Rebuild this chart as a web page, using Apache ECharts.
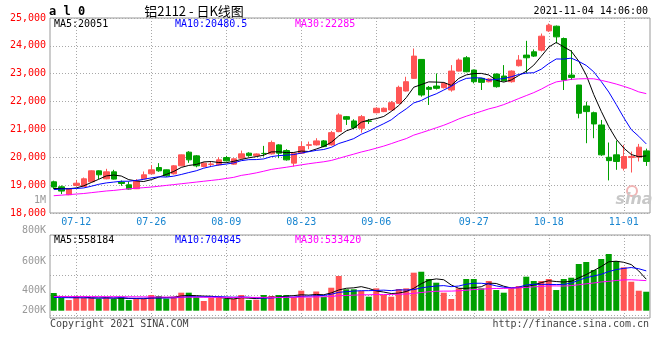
<!DOCTYPE html>
<html><head><meta charset="utf-8">
<script src="https://cdn.jsdelivr.net/npm/echarts@6/dist/echarts.min.js"></script>
<style>html,body{margin:0;padding:0;background:#fff}#c{width:660px;height:360px}</style>
</head><body><div id="c"></div>
<script>
const dates = ['07-07','07-08','07-09','07-12','07-13','07-14','07-15','07-16','07-19','07-20','07-21','07-22','07-23','07-26','07-27','07-28','07-29','07-30',
'08-02','08-03','08-04','08-05','08-06','08-09','08-10','08-11','08-12','08-13','08-16','08-17','08-18','08-19','08-20','08-23','08-24','08-25','08-26','08-27','08-30','08-31',
'09-01','09-02','09-03','09-06','09-07','09-08','09-09','09-10','09-13','09-14','09-15','09-16','09-17','09-22','09-23','09-24','09-27','09-28','09-29','09-30',
'10-08','10-11','10-12','10-13','10-14','10-15','10-18','10-19','10-20','10-21','10-22','10-25','10-26','10-27','10-28','10-29',
'11-01','11-02','11-03','11-04'];
const dateTicks = ['07-12','07-26','08-09','08-23','09-06','09-27','10-18','11-01'];
const priceTicks = [18000,19000,20000,21000,22000,23000,24000,25000];
const volTickLabels = ['800K','600K','400K','200K'];

const open = [19120,18941,18655,18990,18952,19120,19514,19228,19478,19110,19013,18870,19228,19407,19632,19550,19407,19693,20184,20051,
19668,19740,19729,19990,19754,19969,20148,20060,20140,20123,20445,20241,19790,20148,20430,20445,20588,20445,20921,21458,
21304,21043,21304,21600,21640,21700,21938,22380,22833,23513,22510,22558,22498,22415,23095,23572,23131,22833,22713,22988,
22916,22713,23286,23668,23787,23846,24538,24705,24264,22951,22594,21842,21600,21160,20000,20088,19610,19990,20005,20230];
const close = [18931,18787,18870,19070,19228,19514,19371,19478,19217,19060,18859,19145,19371,19550,19514,19335,19693,20087,19908,19693,
19790,19760,19908,19872,19944,20123,20060,20120,20135,20527,20148,19908,20148,20384,20450,20588,20384,20885,21519,21365,
21064,21458,21290,21760,21760,21960,22510,22713,23632,22236,22439,22475,22653,23095,23489,23071,22713,22690,22810,22534,
22749,23095,23489,23572,23632,24347,24741,24323,22773,22868,21580,21640,21197,20088,19880,19850,20026,20030,20363,19850];
const low = [18860,18680,18640,18960,18940,19110,19217,19210,19200,18977,18840,18860,19210,19390,19480,19300,19380,19680,19800,19640,
19640,19650,19700,19850,19730,19950,20020,20040,20026,20100,19969,19880,19668,20130,20291,20420,20360,20420,20900,21161,
21018,20885,21197,21580,21620,21680,21920,22360,22810,22176,21878,22430,22470,22355,23080,23050,22653,22415,22690,22500,
22720,22680,23260,23010,23600,23800,24500,24085,22415,22773,21400,20506,20685,20050,19170,19550,19525,19453,19850,19690];
const high = [19160,18988,18890,19190,19274,19530,19530,19586,19550,19167,19131,19217,19490,19720,19790,19560,19720,20100,20220,20080,
19830,19830,20005,20051,19960,20241,20180,20140,20409,20599,20470,20291,20160,20563,20563,20685,20620,20946,21580,21483,
21365,21519,21376,21800,21790,22020,22570,22890,23906,23520,22560,23010,22690,23309,23548,23632,23150,22850,22840,23010,
23309,23120,23668,24180,23870,24443,24801,24730,24300,23846,22600,21996,21640,21340,20530,20600,20445,20205,20480,20310];

const ma5 = [18880,18880,18870,18900,18977,19094,19211,19332,19362,19328,19197,19152,19130,19197,19288,19383,19493,19636,19707,19743,
19834,19848,19812,19805,19855,19921,19981,20024,20076,20193,20198,20168,20173,20223,20208,20296,20391,20538,20765,20948,
21043,21258,21339,21387,21466,21646,21856,22141,22515,22610,22706,22699,22687,22580,22830,22957,23004,23012,22955,22764,
22699,22776,22935,23088,23307,23627,23956,24123,23963,23810,23450,22950,22250,21650,21100,20650,20330,20100,20020,20051];
const ma10 = [18840,18860,18870,18880,18900,18960,19030,19080,19110,19140,19140,19170,19210,19260,19300,19290,19323,19383,19452,19516,
19609,19671,19724,19756,19799,19878,19915,19918,19941,20024,20060,20075,20099,20150,20201,20247,20280,20356,20494,20578,
20670,20825,20939,21076,21207,21345,21557,21740,21951,22038,22176,22278,22414,22548,22720,22832,22852,22850,22768,22797,
22828,22890,22974,23022,23036,23163,23366,23529,23526,23559,23442,23297,23068,22719,22344,21894,21423,20994,20753,20480];
const ma30 = [18620,18640,18660,18680,18700,18730,18760,18790,18810,18840,18870,18890,18910,18930,18960,18990,19020,19050,19080,19110,
19140,19170,19200,19240,19280,19350,19390,19440,19500,19564,19605,19642,19685,19728,19769,19805,19839,19886,19962,20039,
20113,20190,20254,20327,20402,20490,20584,20671,20795,20880,20968,21059,21150,21258,21376,21474,21563,21648,21737,21804,
21891,21997,22109,22215,22321,22446,22592,22706,22748,22798,22815,22821,22818,22762,22700,22629,22547,22457,22348,22285];

// volume in thousands
const vol = [313,230,189,260,230,230,207,230,207,248,189,207,207,278,260,215,240,319,319,240,
172,230,230,207,207,278,189,195,278,260,278,278,240,354,230,340,245,407,614,379,
379,349,248,396,278,248,384,396,673,690,561,496,319,207,396,561,561,396,526,366,
319,396,437,602,526,526,561,366,561,584,827,862,720,915,1004,880,768,513,354,336];
const volMa5 = [258,250,240,240,244,228,223,231,221,224,216,216,212,226,228,233,240,262,271,267,
258,256,238,216,209,230,222,215,229,240,240,258,267,282,276,288,282,315,367,397,
405,426,394,350,330,304,311,340,396,478,541,563,548,455,396,396,409,424,488,482,
434,401,409,424,456,497,530,516,508,520,580,640,711,782,866,876,857,816,704,558];
const volMa10 = [235,232,230,228,228,226,225,225,226,234,222,220,222,224,226,225,228,237,249,248,
246,248,250,244,238,244,239,227,223,225,235,240,241,256,258,264,270,291,325,337,
347,354,355,359,364,355,369,367,373,404,423,437,444,426,437,469,486,486,472,439,
415,405,417,456,469,466,466,463,466,488,539,585,614,645,693,728,749,764,743,705];
const volMa30 = [250,250,250,250,250,250,250,249,249,248,247,246,245,244,243,242,241,240,240,239,
238,237,237,236,236,236,236,236,236,236,234,236,238,241,241,244,246,252,265,270,
276,281,282,286,286,288,292,295,307,322,335,344,347,347,353,362,375,381,390,393,
395,398,405,413,423,429,440,439,437,444,459,476,491,509,520,535,545,548,540,533];

const UP = '#ff5555', DOWN = '#00a000';
const MONO = '"DejaVu Sans Mono", "Liberation Mono", monospace';
const tickSet = new Set(dateTicks.map(d => dates.indexOf(d)));
const isTick = (i) => tickSet.has(i);
const dotted = {color: '#a8a8a8', type: [1, 2], width: 1};

const chart = echarts.init(document.getElementById('c'), null, {renderer: 'canvas'});

function txt(x, y, text, fill, opts) {
  opts = opts || {};
  return {type: 'text', x: x, y: y, silent: true, z: 100,
    style: {text: text, fill: fill, font: opts.font || ('10px ' + MONO),
      textAlign: opts.align || 'left', textVerticalAlign: 'middle'}};
}

const volLabelY = [230.5, 261, 290, 310.7];
const graphics = [
  txt(49, 12, 'a l 0', '#000', {font: 'bold 12px ' + MONO}),
  txt(194, 11, '铝2112 - 日K线图', '#000', {font: '13px "Noto Sans CJK SC"', align: 'center'}),
  txt(648, 11, '2021-11-04 14:06:00', '#000', {align: 'right'}),
  txt(54, 24, 'MA5:20051', '#000'),
  txt(175, 24, 'MA10:20480.5', '#0000ff'),
  txt(295, 24, 'MA30:22285', '#ff00ff'),
  txt(54, 240, 'MA5:558184', '#000'),
  txt(175, 240, 'MA10:704845', '#0000ff'),
  txt(295, 240, 'MA30:533420', '#ff00ff'),
  txt(46, 200, '1M', '#999', {align: 'right'}),
  txt(50, 324, 'Copyright 2021 SINA.COM', '#444'),
  txt(649, 324, 'http://finance.sina.com.cn', '#444', {align: 'right'}),
  {type: 'circle', silent: true, z: 1, shape: {cx: 632, cy: 191, r: 5}, style: {fill: 'none', stroke: '#f0b4b4', lineWidth: 2}},
  txt(634, 200, 'sina', '#c8c8c8', {font: 'italic bold 16px "DejaVu Sans"', align: 'center'})
];
volTickLabels.forEach((t, k) => graphics.push(txt(46, volLabelY[k], t, '#999', {align: 'right'})));

const option = {
  animation: false,
  backgroundColor: '#ffffff',
  grid: [
    {left: 50, top: 18, width: 600, height: 195, show: true, borderColor: '#999', borderWidth: 1},
    {left: 50, top: 235, width: 600, height: 83, show: true, borderColor: '#999', borderWidth: 1}
  ],
  xAxis: [
    {type: 'category', gridIndex: 0, data: dates, boundaryGap: true,
     axisLine: {show: false}, axisTick: {show: false},
     axisLabel: {interval: isTick, color: '#1a86d0', fontFamily: MONO, fontSize: 10, margin: 4},
     splitLine: {show: true, interval: isTick, alignWithLabel: true, lineStyle: dotted}},
    {type: 'category', gridIndex: 1, data: dates, boundaryGap: true,
     axisLine: {show: false}, axisTick: {show: false}, axisLabel: {show: false},
     splitLine: {show: true, interval: isTick, alignWithLabel: true, lineStyle: dotted}}
  ],
  yAxis: [
    {type: 'value', gridIndex: 0, min: priceTicks[0], max: priceTicks[priceTicks.length - 1], interval: 1000,
     axisLine: {show: false}, axisTick: {show: false},
     axisLabel: {color: '#ff0000', fontFamily: MONO, fontSize: 10, margin: 4},
     splitLine: {show: true, lineStyle: dotted}},
    {type: 'value', gridIndex: 1, min: -129, max: 1340,
     axisLine: {show: false}, axisTick: {show: false}, axisLabel: {show: false}, splitLine: {show: false}},
    {type: 'value', gridIndex: 1, inverse: true, min: 0, max: 83, interval: 20, position: 'left',
     axisLine: {show: false}, axisTick: {show: false}, axisLabel: {show: false},
     splitLine: {show: true, lineStyle: dotted}}
  ],
  series: [
    {type: 'candlestick', xAxisIndex: 0, yAxisIndex: 0, barWidth: 6,
     data: dates.map((d, i) => [open[i], close[i], low[i], high[i]]),
     itemStyle: {color: UP, color0: DOWN, borderColor: UP, borderColor0: DOWN, borderWidth: 1}},
    {type: 'line', xAxisIndex: 0, yAxisIndex: 0, data: ma5, symbol: 'none', lineStyle: {color: '#000', width: 1}, z: 5},
    {type: 'line', xAxisIndex: 0, yAxisIndex: 0, data: ma10, symbol: 'none', lineStyle: {color: '#0000ff', width: 1}, z: 5},
    {type: 'line', xAxisIndex: 0, yAxisIndex: 0, data: ma30, symbol: 'none', lineStyle: {color: '#ff00ff', width: 1}, z: 5},
    {type: 'bar', xAxisIndex: 1, yAxisIndex: 1, barWidth: 6,
     data: vol.map((v, i) => ({value: v, itemStyle: {color: close[i] >= open[i] ? UP : DOWN}}))},
    {type: 'line', xAxisIndex: 1, yAxisIndex: 1, data: volMa5, symbol: 'none', lineStyle: {color: '#000', width: 1}, z: 5},
    {type: 'line', xAxisIndex: 1, yAxisIndex: 1, data: volMa10, symbol: 'none', lineStyle: {color: '#0000ff', width: 1}, z: 5},
    {type: 'line', xAxisIndex: 1, yAxisIndex: 1, data: volMa30, symbol: 'none', lineStyle: {color: '#ff00ff', width: 1}, z: 5}
  ],
  graphic: graphics
};
chart.setOption(option);
</script></body></html>
